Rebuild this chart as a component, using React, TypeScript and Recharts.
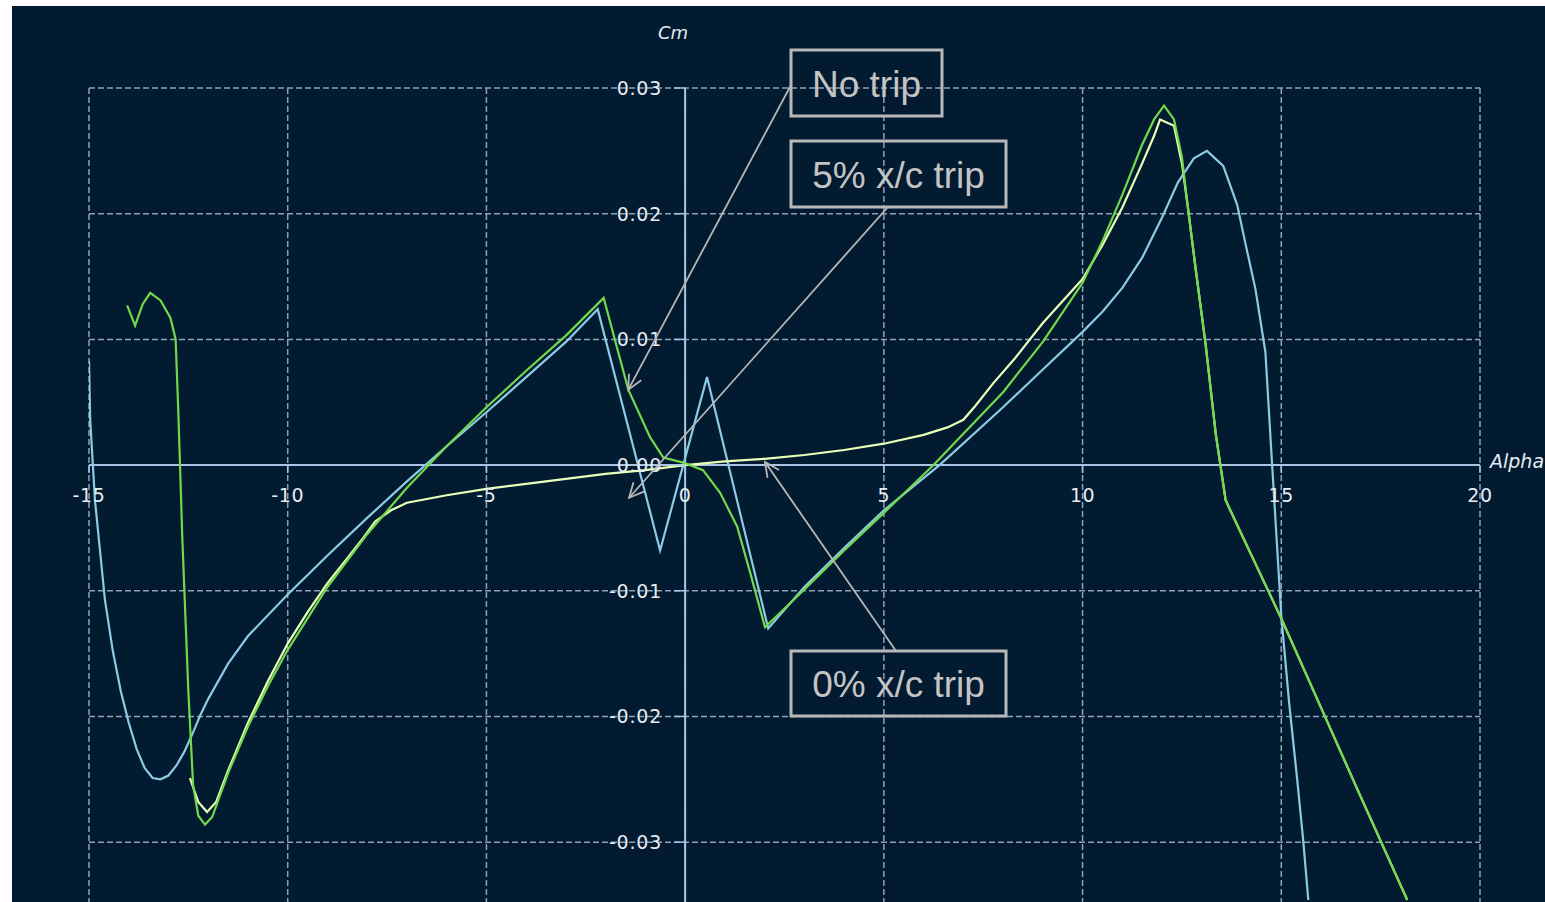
import { LineChart, Line, XAxis, YAxis, CartesianGrid, ReferenceLine } from 'recharts';

// axes
const X_TICKS = [-15, -10, -5, 0, 5, 10, 15, 20];
const Y_TICKS = [-0.03, -0.02, -0.01, 0, 0.01, 0.02, 0.03];

// "No trip" (green)
const noTripX = [-14.04, -13.84, -13.65, -13.46, -13.2, -12.95, -12.82, -12.75, -12.65, -12.5, -12.38, -12.25, -12.08, -11.9, -11.5, -11.0, -10.5, -10.0, -9.0, -8.0, -7.0, -6.0, -5.0, -4.0, -3.0, -2.05, -1.43, -0.88, -0.55, -0.05, 0.45, 0.88, 1.31, 1.64, 2.01, 3.0, 4.0, 5.0, 6.25, 7.0, 8.0, 9.0, 10.0, 10.5, 11.0, 11.5, 11.8, 12.05, 12.3, 12.5, 12.65, 12.85, 13.1, 13.35, 13.6, 14.0, 15.0, 16.0, 17.0, 18.17];
const noTripY = [0.0127, 0.0111, 0.0128, 0.0137, 0.0131, 0.0117, 0.0100, 0.0040, -0.0060, -0.0180, -0.0255, -0.0279, -0.0286, -0.0280, -0.0245, -0.0208, -0.0176, -0.0147, -0.0097, -0.0055, -0.0018, 0.0015, 0.0046, 0.0075, 0.0103, 0.0133, 0.0060, 0.0022, 0.0006, 0.0002, -0.0004, -0.0022, -0.0049, -0.0086, -0.0129, -0.0099, -0.0068, -0.0038, 0.0, 0.0025, 0.0058, 0.0098, 0.0145, 0.0178, 0.0215, 0.0255, 0.0275, 0.0286, 0.0275, 0.0245, 0.0205, 0.0155, 0.0095, 0.0025, -0.0028, -0.0055, -0.0122, -0.0193, -0.0264, -0.0346];

// "5% x/c trip" (cyan)
const trip5X = [-15.0, -14.97, -14.85, -14.6, -14.4, -14.2, -14.0, -13.8, -13.6, -13.4, -13.2, -13.0, -12.8, -12.6, -12.4, -12.2, -12.0, -11.5, -11.0, -10.0, -9.0, -8.0, -7.0, -6.0, -5.0, -4.0, -3.0, -2.2, -0.63, 0.55, 2.09, 3.0, 4.0, 5.0, 6.4, 7.93, 9.0, 10.0, 10.5, 11.0, 11.5, 12.0, 12.4, 12.8, 13.13, 13.54, 13.89, 14.1, 14.35, 14.6, 14.77, 15.0, 15.2, 15.4, 15.55, 15.68];
const trip5Y = [0.0083, 0.0036, -0.0028, -0.0107, -0.0148, -0.0180, -0.0205, -0.0226, -0.0241, -0.0249, -0.0250, -0.0247, -0.0239, -0.0228, -0.0214, -0.0199, -0.0186, -0.0158, -0.0136, -0.0103, -0.0072, -0.0042, -0.0013, 0.0015, 0.0042, 0.0070, 0.0098, 0.0124, -0.0068, 0.0070, -0.0130, -0.0097, -0.0066, -0.0036, 0.0, 0.0044, 0.0076, 0.0106, 0.0122, 0.0141, 0.0165, 0.0197, 0.0225, 0.0244, 0.0250, 0.0238, 0.0207, 0.0176, 0.0140, 0.0090, 0.0, -0.0120, -0.0190, -0.0250, -0.0298, -0.0346];

// "0% x/c trip" (pale yellow)
const trip0X = [-12.46, -12.25, -12.03, -11.8, -11.5, -11.0, -10.5, -10.0, -9.5, -9.0, -8.5, -8.1, -7.8, -7.4, -7.0, -6.0, -5.0, -4.0, -3.0, -2.0, -1.0, 0.0, 1.0, 2.0, 3.0, 4.0, 5.0, 6.0, 6.6, 7.0, 7.3, 7.75, 8.3, 9.0, 10.0, 10.5, 11.0, 11.5, 11.8, 11.95, 12.3, 12.5, 12.65, 12.85, 13.1, 13.35, 13.6, 14.0, 15.0, 16.0, 17.0, 18.17];
const trip0Y = [-0.0249, -0.0268, -0.0276, -0.0268, -0.0243, -0.0205, -0.0172, -0.0142, -0.0117, -0.0094, -0.0074, -0.0058, -0.0045, -0.0036, -0.0030, -0.0024, -0.0019, -0.0015, -0.0011, -0.0007, -0.0004, 0.0, 0.0003, 0.0005, 0.0008, 0.0012, 0.0017, 0.0024, 0.0030, 0.0036, 0.0047, 0.0065, 0.0085, 0.0113, 0.0148, 0.0175, 0.0205, 0.0240, 0.0262, 0.0275, 0.0270, 0.0240, 0.0205, 0.0155, 0.0095, 0.0025, -0.0028, -0.0055, -0.0122, -0.0193, -0.0264, -0.0346];

const toPoints = (xs: number[], ys: number[]) => xs.map((x, i) => ({ x, y: ys[i] }));

const W = 1533;
const H = 905;
const M = { top: 82, right: 65, bottom: 5, left: 76 };
const X_MIN = -15, X_MAX = 20, Y_MIN = -0.035, Y_MAX = 0.03;
const PLOT_L = M.left + 1;
const PLOT_W = W - PLOT_L - M.right;
const PLOT_T = M.top;
const PLOT_H = H - M.top - M.bottom - 1;
const xPx = (x: number) => PLOT_L + ((x - X_MIN) / (X_MAX - X_MIN)) * PLOT_W;
const yPx = (y: number) => PLOT_T + ((Y_MAX - y) / (Y_MAX - Y_MIN)) * PLOT_H;

const BG = '#021b30';
const AXIS = '#a6c6e4';
const TICK_TEXT = '#e6ecf2';
const NOTE = '#b8b8b8';

const XTick = (props: any) => {
  const { x, payload } = props;
  const zy = yPx(0);
  return (
    <g>
      <line x1={x} x2={x} y1={zy} y2={zy + 8} stroke={AXIS} strokeWidth={1.5} />
      <text x={x} y={zy + 30} textAnchor="middle" dominantBaseline="central" fill={TICK_TEXT} fontSize={19} letterSpacing={0.6} fontFamily="DejaVu Sans">
        {payload.value}
      </text>
    </g>
  );
};

const YTick = (props: any) => {
  const { y, payload } = props;
  const zx = xPx(0);
  return (
    <g>
      <line x1={zx - 11} x2={zx} y1={y} y2={y} stroke={AXIS} strokeWidth={1.5} />
      <text x={zx - 23} y={y} textAnchor="end" dominantBaseline="central" fill={TICK_TEXT} fontSize={19} letterSpacing={0.8} fontFamily="DejaVu Sans">
        {Number(payload.value).toFixed(2)}
      </text>
    </g>
  );
};

// annotation boxes (layout) and arrow tips (data coords)
const notes = [
  { label: 'No trip', box: [779, 44, 151, 66], from: [779, 79], tip: [-1.43, 0.006] },
  { label: '5% x/c trip', box: [779, 135, 215, 66], from: [876, 201], tip: [-1.41, -0.0026] },
  { label: '0% x/c trip', box: [779, 645, 215, 65], from: [884, 645], tip: [2.01, 0.00024] },
];

function Arrow({ from, tip }: { from: number[]; tip: number[] }) {
  const tx = xPx(tip[0]);
  const ty = yPx(tip[1]);
  const ang = Math.atan2(ty - from[1], tx - from[0]);
  const len = 16;
  const spread = 0.45;
  const h1 = [tx - len * Math.cos(ang - spread), ty - len * Math.sin(ang - spread)];
  const h2 = [tx - len * Math.cos(ang + spread), ty - len * Math.sin(ang + spread)];
  return (
    <g stroke={NOTE} strokeWidth={1.8} fill="none">
      <line x1={from[0]} y1={from[1]} x2={tx} y2={ty} />
      <polyline points={`${h1[0]},${h1[1]} ${tx},${ty} ${h2[0]},${h2[1]}`} />
    </g>
  );
}

export default function App() {
  return (
    <div style={{ position: 'absolute', left: 12, top: 6, width: W, height: 896, overflow: 'hidden', background: BG }}>
      <LineChart width={W} height={H} margin={M}>
        <CartesianGrid stroke="#8fa2b8" strokeDasharray="6 3" strokeWidth={1.5} />
        <XAxis
          type="number"
          dataKey="x"
          domain={[X_MIN, X_MAX]}
          ticks={X_TICKS}
          interval={0}
          height={1}
          axisLine={false}
          tickLine={false}
          tick={<XTick />}
          allowDataOverflow
        />
        <YAxis
          type="number"
          dataKey="y"
          domain={[Y_MIN, Y_MAX]}
          ticks={Y_TICKS}
          interval={0}
          width={1}
          axisLine={false}
          tickLine={false}
          tick={<YTick />}
          allowDataOverflow
        />
        <ReferenceLine y={0} stroke={AXIS} strokeWidth={2} />
        <ReferenceLine segment={[{ x: 0, y: Y_MAX }, { x: 0, y: Y_MIN }]} stroke={AXIS} strokeWidth={2} />
        <Line data={toPoints(trip5X, trip5Y)} dataKey="y" type="linear" stroke="#8ccbe4" strokeWidth={2.2} dot={false} isAnimationActive={false} />
        <Line data={toPoints(trip0X, trip0Y)} dataKey="y" type="linear" stroke="#eaffb8" strokeWidth={2.2} dot={false} isAnimationActive={false} />
        <Line data={toPoints(noTripX, noTripY)} dataKey="y" type="linear" stroke="#72d84c" strokeWidth={2.2} dot={false} isAnimationActive={false} />
      </LineChart>
      <svg width={W} height={896} style={{ position: 'absolute', left: 0, top: 0, pointerEvents: 'none' }}>
        <text x={661} y={26} textAnchor="middle" dominantBaseline="central" fill={TICK_TEXT} fontSize={18} fontStyle="italic" fontFamily="DejaVu Sans">
          Cm
        </text>
        <text x={1478} y={455} dominantBaseline="central" fill={TICK_TEXT} fontSize={19} fontStyle="italic" fontFamily="DejaVu Sans">
          Alpha
        </text>
        {notes.map((n) => (
          <g key={n.label}>
            <Arrow from={n.from} tip={n.tip} />
            <rect x={n.box[0]} y={n.box[1]} width={n.box[2]} height={n.box[3]} fill="none" stroke={NOTE} strokeWidth={3} />
            <text
              x={n.box[0] + n.box[2] / 2}
              y={n.box[1] + n.box[3] / 2 + 1}
              textAnchor="middle"
              dominantBaseline="central"
              fill="#c4c4c4"
              fontSize={37}
              fontFamily="Liberation Sans, Arial, sans-serif"
            >
              {n.label}
            </text>
          </g>
        ))}
      </svg>
    </div>
  );
}
